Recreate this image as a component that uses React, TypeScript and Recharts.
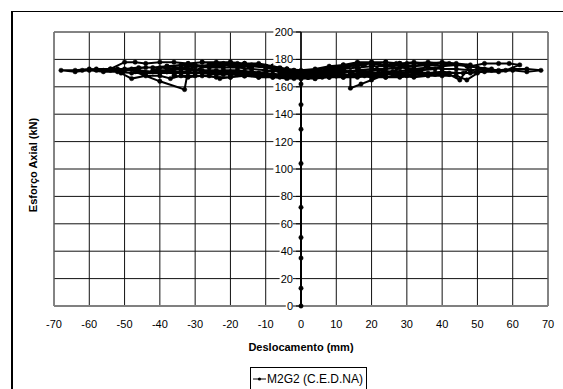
import React from 'react';
import { LineChart, Line, XAxis, YAxis, CartesianGrid, ReferenceLine, ReferenceArea } from 'recharts';

// ticks
const xTicks = [-70, -60, -50, -40, -30, -20, -10, 0, 10, 20, 30, 40, 50, 60, 70];
const yTicks = [0, 20, 40, 60, 80, 100, 120, 140, 160, 180, 200];

// [deslocamento (mm), esforço axial (kN)]
const subida = [[0, 0], [0, 13], [0, 35], [0, 50], [0, 72], [0, 104], [0, 129], [0, 147], [0, 162], [0, 168]];

const ciclo1 = [[3, 170], [6, 171], [3, 169], [0, 168], [-3, 169], [-6, 171], [-3, 170], [0, 169]];

const ciclo2 = [[4, 171], [8, 172], [12, 173], [8, 169], [4, 168], [0, 167], [-4, 168], [-8, 169], [-12, 170], [-8, 172], [-4, 171], [0, 170]];

const ciclo3 = [[4, 172], [8, 174], [12, 175], [15, 176], [18, 176], [14, 169], [10, 168], [6, 168], [2, 167], [-2, 167], [-6, 168], [-10, 169], [-14, 169], [-18, 170], [-14, 175], [-10, 175], [-6, 174], [-2, 172], [0, 171]];

const ciclo4 = [[4, 171], [8, 172], [11, 172], [14, 171], [14, 159], [17, 162], [20, 165], [24, 169], [20, 177], [16, 177], [12, 176], [8, 175], [4, 173], [0, 172], [-4, 173], [-8, 175], [-12, 176], [-16, 177], [-20, 177], [-24, 177], [-20, 169], [-16, 168], [-12, 168], [-8, 168], [-4, 167], [0, 167]];

const ciclo5 = [[4, 170], [8, 173], [12, 175], [16, 177], [20, 178], [24, 178], [27, 177], [30, 177], [26, 171], [22, 170], [18, 170], [14, 169], [10, 169], [6, 168], [2, 167], [-2, 167], [-6, 168], [-10, 169], [-14, 170], [-18, 170], [-22, 171], [-26, 171], [-30, 172], [-26, 176], [-22, 177], [-18, 177], [-14, 176], [-10, 175], [-6, 174], [-2, 172], [0, 171]];

const ciclo6 = [[4, 169], [8, 171], [12, 173], [16, 174], [20, 175], [24, 175], [28, 174], [32, 175], [36, 176], [32, 168], [28, 167], [24, 167], [20, 168], [16, 167], [12, 167], [8, 167], [4, 166], [0, 166], [-4, 166], [-8, 167], [-12, 167], [-16, 168], [-20, 167], [-24, 167], [-28, 168], [-32, 167], [-36, 168], [-32, 177], [-28, 178], [-24, 178], [-20, 178], [-16, 177], [-12, 177], [-8, 175], [-4, 173], [0, 170]];

const ciclo7 = [[4, 170], [8, 172], [12, 174], [16, 176], [20, 177], [24, 176], [28, 177], [32, 177], [36, 176], [40, 177], [42, 177], [38, 173], [34, 172], [30, 172], [26, 171], [22, 172], [18, 171], [14, 171], [10, 170], [6, 169], [2, 168], [-2, 168], [-6, 169], [-10, 170], [-14, 171], [-18, 172], [-22, 172], [-26, 171], [-30, 172], [-34, 171], [-38, 172], [-42, 172], [-38, 175], [-34, 176], [-30, 176], [-26, 175], [-22, 176], [-18, 175], [-14, 175], [-10, 174], [-6, 173], [-2, 171], [0, 170]];

const ciclo8 = [[4, 170], [8, 173], [12, 176], [16, 178], [20, 178], [24, 178], [28, 177], [32, 178], [36, 177], [40, 178], [44, 177], [48, 176], [45, 165], [42, 169], [38, 169], [34, 169], [30, 168], [26, 169], [22, 169], [18, 168], [14, 168], [10, 168], [6, 167], [2, 167], [-2, 166], [-6, 167], [-10, 168], [-14, 169], [-18, 169], [-22, 169], [-26, 170], [-30, 170], [-34, 170], [-38, 171], [-42, 171], [-47, 171], [-40, 164], [-33, 158], [-32, 172], [-30, 175], [-26, 176], [-22, 176], [-18, 176], [-14, 175], [-10, 174], [-6, 172], [-2, 170], [0, 169]];

const ciclo9 = [[4, 169], [8, 171], [12, 173], [16, 174], [20, 175], [24, 175], [28, 176], [32, 175], [36, 176], [40, 175], [44, 176], [47, 175], [50, 174], [54, 173], [50, 170], [47, 165], [44, 168], [40, 168], [36, 168], [32, 167], [28, 168], [24, 167], [20, 167], [16, 168], [12, 167], [8, 167], [4, 166], [0, 166], [-4, 166], [-8, 167], [-12, 167], [-16, 168], [-20, 167], [-23, 166], [-26, 168], [-30, 168], [-34, 168], [-37, 166], [-40, 168], [-44, 168], [-48, 166], [-51, 170], [-54, 173], [-50, 178], [-47, 178], [-44, 177], [-40, 178], [-36, 178], [-32, 177], [-28, 178], [-24, 177], [-20, 178], [-16, 177], [-12, 176], [-8, 175], [-4, 173], [0, 171]];

const ciclo10 = [[4, 170], [8, 172], [12, 175], [16, 177], [20, 177], [24, 178], [28, 177], [32, 177], [36, 178], [40, 177], [44, 176], [48, 175], [52, 177], [56, 177], [59, 177], [62, 176], [58, 172], [54, 172], [50, 171], [46, 170], [42, 170], [38, 170], [34, 170], [30, 169], [26, 170], [22, 169], [18, 169], [14, 169], [10, 168], [6, 168], [2, 167], [-2, 167], [-6, 168], [-10, 169], [-14, 170], [-18, 170], [-22, 170], [-26, 171], [-30, 170], [-34, 171], [-38, 171], [-42, 171], [-46, 172], [-50, 172], [-54, 172], [-58, 172], [-62, 172], [-58, 173], [-54, 173], [-50, 173], [-46, 174], [-42, 174], [-38, 175], [-34, 174], [-30, 175], [-26, 174], [-22, 174], [-18, 174], [-14, 173], [-10, 172], [-6, 171], [-2, 169], [0, 168]];

const ciclo11 = [[4, 169], [8, 170], [12, 171], [16, 172], [20, 173], [24, 173], [28, 174], [32, 173], [36, 174], [40, 173], [44, 173], [48, 172], [52, 173], [56, 172], [60, 173], [64, 173], [68, 172], [64, 171], [60, 172], [56, 171], [52, 171], [48, 170], [44, 170], [40, 171], [36, 170], [32, 171], [28, 170], [24, 170], [20, 170], [16, 169], [12, 169], [8, 168], [4, 168], [0, 167], [-4, 168], [-8, 169], [-12, 170], [-16, 171], [-20, 171], [-24, 172], [-28, 172], [-32, 173], [-36, 173], [-40, 174], [-44, 174], [-48, 173], [-52, 173], [-56, 172], [-60, 173], [-64, 172], [-68, 172], [-64, 171], [-60, 172], [-56, 171], [-52, 171], [-48, 170], [-44, 170], [-40, 170], [-36, 170], [-32, 170], [-28, 170], [-24, 169], [-20, 169], [-16, 169], [-12, 169], [-8, 169], [-4, 169], [0, 170]];

const ciclos = [subida, ciclo1, ciclo2, ciclo3, ciclo4, ciclo5, ciclo6, ciclo7, ciclo8, ciclo9, ciclo10, ciclo11];
const data = ciclos.flat().map(([d, f]) => ({ d, f }));

const CHART_W = 550;
const CHART_H = 377;
const MARGIN = { top: 20, right: 15, left: 11, bottom: 53 };
const Y_W = 30;
const PLOT_LEFT = MARGIN.left + Y_W;
const PLOT_W = CHART_W - PLOT_LEFT - MARGIN.right;
const AXIS_X = PLOT_LEFT + PLOT_W / 2;

const YTick = (props: any) => {
    const { y, payload } = props;
    const label = String(payload.value);
    const w = label.length * 6.2 + 1;
    return (
        <g>
            <rect x={AXIS_X - 8 - w} y={y - 6} width={w} height={12} fill="#fff" />
            <line x1={AXIS_X - 5} x2={AXIS_X} y1={y} y2={y} stroke="#000" />
            <text x={AXIS_X - 8} y={y + 4} textAnchor="end" fontSize={11} fill="#000">{label}</text>
        </g>
    );
};

const YTitle = () => (
    <text x={20} y={153} transform="rotate(-90 20 153)" textAnchor="middle" dominantBaseline="central"
        fontSize={11} fontWeight="bold" fill="#000">Esforço Axial (kN)</text>
);

const XTitle = () => (
    <text x={AXIS_X} y={339} textAnchor="middle" fontSize={11} fontWeight="bold" fill="#000">Deslocamento (mm)</text>
);

export default function App() {
    return (
        <div style={{
            position: 'fixed', left: 11, top: 11, width: 552, height: 378, boxSizing: 'border-box',
            borderLeft: '2px solid #000', borderTop: '1px solid #000', overflow: 'hidden',
            fontFamily: '"Liberation Sans", Arial, sans-serif', background: '#fff'
        }}>
            <LineChart width={CHART_W} height={CHART_H} data={data} margin={MARGIN}>
                <CartesianGrid stroke="#111" strokeWidth={1} />
                <XAxis
                    type="number"
                    dataKey="d"
                    domain={[-70, 70]}
                    ticks={xTicks}
                    interval={0}
                    height={30}
                    tickLine={false}
                    tickMargin={8}
                    axisLine={{ stroke: '#808080', strokeWidth: 2 }}
                    tick={{ fill: '#000', fontSize: 11 }}
                    label={{ content: XTitle }}
                />
                <YAxis
                    type="number"
                    domain={[0, 200]}
                    ticks={yTicks}
                    interval={0}
                    width={Y_W}
                    axisLine={false}
                    tickLine={false}
                    tick={YTick}
                    label={{ content: YTitle }}
                />
                <ReferenceArea x1={-70} x2={70} y1={0} y2={200} fill="none" stroke="#808080" strokeWidth={1} fillOpacity={0} />
                <ReferenceLine x={0} stroke="#000" strokeWidth={1.5} />
                <Line
                    type="linear"
                    dataKey="f"
                    name="M2G2 (C.E.D.NA)"
                    stroke="#000"
                    strokeWidth={2}
                    dot={{ r: 2.2, fill: '#000', stroke: '#000', strokeWidth: 0.5 }}
                    isAnimationActive={false}
                />
            </LineChart>
            <div style={{
                position: 'absolute', left: 237, top: 355, width: 117, height: 30, boxSizing: 'border-box',
                border: '1px solid #000', background: '#fff', display: 'flex', alignItems: 'flex-start',
                paddingTop: 5, paddingLeft: 2, fontSize: 12, lineHeight: '12px', color: '#000'
            }}>
                <svg width={13} height={12} style={{ flex: 'none' }}>
                    <line x1={0} x2={13} y1={6} y2={6} stroke="#000" strokeWidth={1} />
                    <circle cx={6.5} cy={6} r={1.6} fill="#000" />
                </svg>
                <span style={{ marginLeft: 1, whiteSpace: 'nowrap' }}>M2G2 (C.E.D.NA)</span>
            </div>
        </div>
    );
}
